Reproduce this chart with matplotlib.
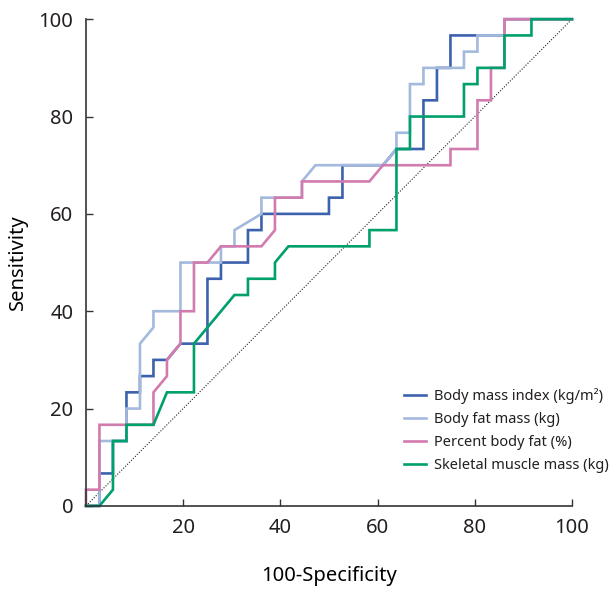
"""ROC curves of body composition indices (step curves, 36 negatives / 30 positives)."""

import matplotlib

matplotlib.use("Agg")
import matplotlib.pyplot as plt

N_NEG = 36
N_POS = 30

labels = [
    "Body mass index (kg/m²)",
    "Body fat mass (kg)",
    "Percent body fat (%)",
    "Skeletal muscle mass (kg)",
]
colors = ["#3d62ad", "#a4b9de", "#d27bae", "#00a06c"]

# vertices as counts of false positives / true positives
bmi_fp = [0, 1, 1, 2, 2, 3, 3, 4, 4, 5, 5, 6, 7, 9, 9, 10, 10, 12, 12, 13, 13,
          18, 18, 19, 19, 22, 23, 25, 25, 26, 26, 27, 27, 31, 31, 36]
bmi_tp = [0, 0, 2, 2, 4, 4, 7, 7, 8, 8, 9, 9, 10, 10, 14, 14, 15, 15, 17, 17, 18,
          18, 19, 19, 21, 21, 22, 22, 25, 25, 27, 27, 29, 29, 30, 30]

bfm_fp = [0, 1, 1, 3, 3, 4, 4, 5, 5, 7, 7, 10, 10, 11, 11, 13, 13, 16, 16, 17,
          22, 23, 23, 24, 24, 25, 25, 28, 28, 29, 29, 31, 31, 36]
bfm_tp = [0, 0, 4, 4, 6, 6, 10, 11, 12, 12, 15, 15, 16, 16, 17, 18, 19, 19, 20, 21,
          21, 22, 23, 23, 26, 26, 27, 27, 28, 28, 29, 29, 30, 30]

pbf_fp = [0, 0, 1, 1, 5, 5, 6, 6, 7, 7, 8, 8, 9, 10, 13, 14, 14, 16, 16, 21, 22,
          27, 27, 29, 29, 30, 30, 31, 31, 36]
pbf_tp = [0, 1, 1, 5, 5, 7, 8, 9, 10, 12, 12, 15, 15, 16, 16, 17, 19, 19, 20, 20, 21,
          21, 22, 22, 25, 25, 27, 27, 30, 30]

smm_fp = [0, 1, 2, 2, 3, 3, 5, 6, 8, 8, 11, 12, 12, 14, 14, 15, 21, 21, 23, 23,
          24, 24, 28, 28, 29, 29, 31, 31, 33, 33, 36]
smm_tp = [0, 0, 1, 4, 4, 5, 5, 7, 7, 10, 13, 13, 14, 14, 15, 16, 16, 17, 17, 22,
          22, 24, 24, 26, 26, 27, 27, 29, 29, 30, 30]

series = [(bmi_fp, bmi_tp), (bfm_fp, bfm_tp), (pbf_fp, pbf_tp), (smm_fp, smm_tp)]

ticks = [0, 20, 40, 60, 80, 100]

plt.rcParams.update(
    {
        "font.family": ["Noto Sans", "DejaVu Sans"],
        "text.color": "#231f20",
        "axes.edgecolor": "#333333",
        "xtick.color": "#333333",
        "ytick.color": "#333333",
        "xtick.labelcolor": "#231f20",
        "ytick.labelcolor": "#231f20",
    }
)

fig = plt.figure(figsize=(6.14, 5.91), dpi=100)
ax = fig.add_axes([0.140, 0.144, 0.7915, 0.8235])

ax.plot([0, 100], [0, 100], ls=(0, (1, 1.5)), color="#222222", lw=0.8, zorder=1)

for (fp, tp), lab, col in zip(series, labels, colors):
    x = [100 * v / N_NEG for v in fp]
    y = [100 * v / N_POS for v in tp]
    ax.plot(x, y, color=col, lw=1.9, label=lab, solid_joinstyle="miter",
            clip_on=False, zorder=2)

ax.set_xlim(0, 100)
ax.set_ylim(0, 100)
ax.set_xticks(ticks[1:])
ax.set_yticks(ticks)
ax.tick_params(direction="in", length=5, width=1, labelsize=14.5, pad=9)
for side in ["top", "right"]:
    ax.spines[side].set_visible(False)
for side in ["left", "bottom"]:
    ax.spines[side].set_linewidth(1.2)

ax.set_xlabel("100-Specificity", fontsize=14.5, labelpad=20)
ax.set_ylabel("Sensitivity", fontsize=14.5, labelpad=8)

ax.legend(
    loc="lower left",
    bbox_to_anchor=(0.639, 0.052),
    frameon=False,
    fontsize=10.5,
    handlelength=1.5,
    handletextpad=0.6,
    labelspacing=0.55,
    borderpad=0,
)

fig.savefig("out.png", dpi=100)
plt.close(fig)
